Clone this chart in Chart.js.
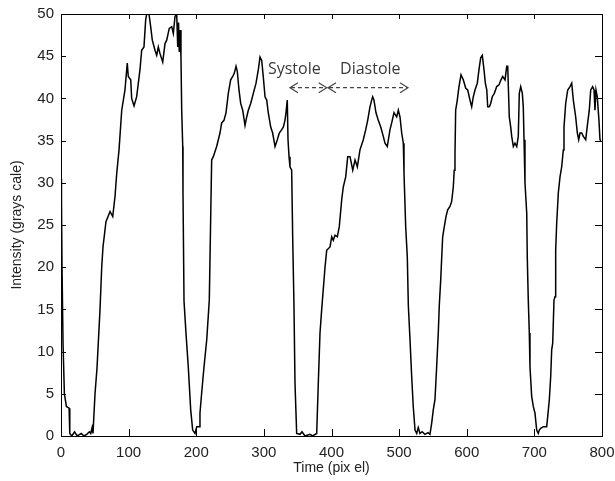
<!DOCTYPE html>
<html>
<head>
<meta charset="utf-8">
<script src="https://cdn.jsdelivr.net/npm/chart.js@4/dist/chart.umd.min.js"></script>
<style>
  html, body { margin: 0; padding: 0; background: #ffffff; }
  #wrap { width: 615px; height: 481px; position: relative; }
</style>
</head>
<body>
<div id="wrap"><canvas id="c" width="615" height="481"></canvas></div>
<script>
// ---- Data ----
const timePixel = [
  0, 0.7, 1.5, 3, 5, 8, 12, 13, 16, 20, 24, 30, 34, 38, 42, 44, 46, 47.3,
  50.3, 53.2, 57.7, 60.2, 62.1, 66.5, 72.5, 76.5, 79.9, 82.4, 85.8, 89.8, 94.6, 98, 99.5,
  103.1, 104.5, 108, 111.9, 116.8, 119.3, 122.7, 125.2, 126.7, 130.1, 132.6, 135, 139,
  141.5, 143.9, 146.4, 150.4, 153.8, 156.3, 160.1, 163.7, 166.1, 168.6, 171.1, 172.6,
  173.8, 174.9, 176, 177.4, 178.5, 180, 180.4, 181.9, 184.8, 188.2, 191.8, 194.7, 198.2,
  200.7, 204.5, 205.5, 208, 211.5, 215.5, 219.3, 221.8, 222.8, 225.2, 230.2, 235.1, 237.6,
  241, 244, 247.4, 250.9, 253.9, 256.3, 258.8, 260.7, 263.2, 265.7, 268.7, 272.1, 274.6,
  277, 280.5, 284.4, 288.4, 291.8, 294.3, 296.8, 299.1, 301.7, 304.2, 306.5, 310.1, 313,
  316.5, 319.9, 322.8, 326.4, 328.7, 331.2, 332.7, 334.6, 335.7, 337.2, 338.6, 341.1,
  342.6, 344.5, 346, 348.5, 353.4, 356.4, 360.8, 368.2, 372, 378.1, 380.5, 383, 385.5,
  390.4, 392.9, 397.8, 400.3, 402.7, 405.2, 408.6, 411.5, 415.1, 417.4, 421, 424, 427.4,
  431.4, 434.8, 438.2, 442.1, 447, 450.6, 453.5, 456.9, 459.4, 460.9, 462.8, 465.8, 469.2,
  472.8, 476.6, 479.1, 482.5, 486.5, 489, 492.4, 496.4, 498.8, 501.3, 503.8, 506.2, 507.2,
  509.7, 512.1, 513.6, 516.1, 518.6, 520.9, 523.5, 526, 528.3, 530.8, 534, 538.2, 542.7,
  545.6, 548.1, 550.5, 553, 555.5, 557.9, 559.4, 561.5, 563, 564.4, 566.8, 569.3, 571.8,
  575.2, 577.7, 580.1, 581.5, 582.6, 583.6, 586, 588.5, 591.5, 594.9, 598.5, 601.4, 604.8,
  607.3, 609.7, 612.2, 615.6, 618.1, 620.6, 623, 625.5, 627.5, 629.6, 631, 633.4, 635.4,
  637.8, 640.8, 644.3, 647.7, 650.6, 653.2, 656.6, 659.1, 660.6, 661.5, 662.9, 665, 666.5,
  668.9, 671.3, 673.9, 676.2, 677.7, 679.8, 682.2, 683.6, 684.7, 686.1, 688.7, 689.5, 691,
  692.5, 693.5, 696, 698.4, 700.9, 703.4, 705.8, 707.3, 709.3, 713.2, 718.2, 719.7, 722.1,
  724.1, 725.6, 727.1, 729, 730.5, 731.5, 733, 735.4, 737.9, 740.4, 742.8, 743.8, 746.3,
  749.3, 752.7, 755.2, 757.6, 761.1, 763.5, 765.5, 767.5, 770, 772.4, 775.9, 778.8, 781.2,
  783.3, 786.2, 788.2, 789.6, 791.1, 793, 795.5, 797, 798.5
];
const intensity = [
  30.5, 28, 20, 11, 5, 3.5, 3.3, 0.3, 0, 0.5, 0, 0.3, 0, 0.2, 0.5, 0.3, 1, 0.3,
  5, 8, 15, 20, 22.4, 25.4, 26.6, 26, 28.4, 31.1, 33.9, 38.6, 41, 44.2, 42.6,
  42.2, 40, 39.1, 40.2, 43.4, 45.7, 46.1, 49.3, 50, 50, 48.5, 46.9, 45.7,
  45.1, 46.1, 45.3, 44.3, 46.5, 46.9, 48.3, 48.5, 47.7, 49.7, 50, 46.1,
  49, 45.5, 48.1, 44.9, 38.6, 34.3, 28.8, 16, 12.2, 8.2, 3.1, 0.7, 0.3,
  1.1, 1.1, 2.7, 5.1, 8.2, 11.4, 16.1, 28, 32.7, 33.1, 34.3, 35.9, 37.1,
  37.4, 38.3, 40.6, 42.2, 42.6, 43, 43.8, 43.2, 41, 39.4, 38.6, 36.8, 37.8,
  38.6, 39.4, 40.6, 41.8, 43.4, 44.9, 44.5, 42.6, 40.2, 39.8, 38.3, 36.6, 35.9,
  34.3, 35.1, 35.9, 36.3, 36.6, 37.4, 38.3, 39.8, 35.1, 33.1, 31.9, 31.5,
  23.6, 15.5, 6.3, 0.3, 0.2, 0.5, 0, 0.2, 0, 0.3, 6.3, 12.2, 15,
  20, 22, 22.4, 23.6, 23.2, 23.8, 23.6, 24.8, 28, 29.5, 30.7, 33.1, 33.1,
  31.5, 32.7, 31.9, 33.9, 35.1, 36.3, 37.4, 39, 39.8, 40.2, 39.8, 38.3, 37.4,
  36.6, 35.5, 34.7, 34.3, 36.3, 37.1, 38.3, 37.8, 38.6, 37.8, 35.9, 34.7, 31.2,
  24.8, 21.2, 15.5, 11.4, 7, 3.5, 0.7, 0.3, 1, 0.3, 0.5, 0.2, 0.4,
  0.2, 1.5, 3.1, 4.3, 8.2, 12.2, 15.5, 18.5, 21.2, 23.6, 24.8, 26, 26.8,
  27.2, 27.8, 29.5, 31.5, 33.3, 38.6, 39.8, 41.4, 42.8, 42.2, 41.2, 41, 39.8,
  39, 40.2, 41, 41.8, 43.4, 44.8, 45.1, 43.4, 41.8, 41, 39, 39, 39.4,
  40.2, 40.6, 41.4, 41.6, 42.2, 42.6, 42.2, 43.8, 43.8, 41.4, 37.8, 36.6, 35.5,
  34.3, 34.7, 34.3, 35.5, 40.6, 41.4, 40.6, 39, 35.1, 30, 26.4, 21.2, 16.1,
  12.2, 8.2, 4.7, 3.5, 2.7, 0.7, 0.3, 0.7, 0.9, 1.1, 1.1, 2.3, 4.3,
  7, 10.2, 11, 16.1, 16.5, 22, 25.2, 28.8, 30.7, 31.9, 33.9, 36.6, 39.4,
  41, 41.4, 41.8, 39.8, 37.8, 35.9, 35.1, 35.9, 35.9, 35.5, 35.1, 37.1, 38.6,
  41, 41.4, 41, 38.6, 41, 40.2, 37.4, 35.1, 35
];
const xTicks = [0, 100, 200, 300, 400, 500, 600, 700, 800];
const yTicks = [0, 5, 10, 15, 20, 25, 30, 35, 40, 45, 50];
const xTitle = 'Time (pix el)';
const yTitle = 'Intensity (grays cale)';
// annotation labels and arrow spans (data units)
const annotLabels = ['Systole', 'Diastole'];
const annotLabelX = [306, 412.6];
const annotLabelY = 42.9;
const arrowStart = [338.6, 394.8];
const arrowEnd = [392.9, 513.1];
const arrowY = 41.27;

const points = timePixel.map((t, i) => ({ x: t, y: intensity[i] }));

const frameAndTicks = {
  id: 'frameAndTicks',
  afterDatasetsDraw(chart) {
    const { ctx, chartArea: a, scales } = chart;
    const xs = scales.x, ys = scales.y;
    ctx.save();
    ctx.strokeStyle = '#000';
    ctx.lineWidth = 1;
    ctx.beginPath();
    xTicks.forEach(v => {
      const px = Math.round(xs.getPixelForValue(v)) + 0.5;
      ctx.moveTo(px, a.bottom); ctx.lineTo(px, a.bottom - 7);
      ctx.moveTo(px, a.top); ctx.lineTo(px, a.top + 5);
    });
    yTicks.forEach(v => {
      const py = Math.round(ys.getPixelForValue(v)) + 0.5;
      ctx.moveTo(a.left, py); ctx.lineTo(a.left + 5, py);
      ctx.moveTo(a.right, py); ctx.lineTo(a.right - 7, py);
    });
    ctx.stroke();
    ctx.strokeRect(Math.round(a.left) + 0.5, Math.round(a.top) + 0.5,
                   Math.round(a.right - a.left), Math.round(a.bottom - a.top));
    // annotation
    ctx.fillStyle = '#3a3a3a';
    ctx.font = '16px "Open Sans", sans-serif';
    ctx.textBaseline = 'alphabetic';
    ctx.textAlign = 'left';
    annotLabels.forEach((s, i) => {
      ctx.fillText(s, xs.getPixelForValue(annotLabelX[i]), ys.getPixelForValue(annotLabelY));
    });
    ctx.strokeStyle = '#444';
    ctx.lineWidth = 1.2;
    const ay = ys.getPixelForValue(arrowY);
    arrowStart.forEach((s, i) => {
      const x0 = xs.getPixelForValue(s), x1 = xs.getPixelForValue(arrowEnd[i]);
      ctx.setLineDash([4, 3]);
      ctx.beginPath(); ctx.moveTo(x0 + 1, ay); ctx.lineTo(x1 - 1, ay); ctx.stroke();
      ctx.setLineDash([]);
      ctx.beginPath();
      ctx.moveTo(x0 + 8, ay - 5); ctx.lineTo(x0, ay); ctx.lineTo(x0 + 8, ay + 5);
      ctx.moveTo(x1 - 8, ay - 5); ctx.lineTo(x1, ay); ctx.lineTo(x1 - 8, ay + 5);
      ctx.stroke();
    });
    ctx.restore();
  }
};

new Chart(document.getElementById('c'), {
  type: 'line',
  data: {
    datasets: [{
      data: points,
      borderColor: '#000',
      borderWidth: 1.5,
      pointRadius: 0,
      fill: false,
      tension: 0
    }]
  },
  options: {
    responsive: false,
    animation: false,
    events: [],
    layout: { padding: { left: 0, right: 13, top: 14, bottom: 0 } },
    plugins: { legend: { display: false }, tooltip: { enabled: false } },
    scales: {
      x: {
        type: 'linear', min: 0, max: 800,
        afterBuildTicks: s => { s.ticks = xTicks.map(v => ({ value: v })); },
        afterFit: s => { s.height = 45; s.paddingLeft = 0; s.paddingRight = 0; },
        grid: { display: false, drawTicks: false },
        border: { display: false },
        ticks: { color: '#222', padding: 8, maxRotation: 0, font: { family: '"Liberation Sans", Arial, sans-serif', size: 15 } },
        title: { display: true, text: xTitle, color: '#222', padding: { top: 0, bottom: 4 },
                 font: { family: '"Liberation Sans", Arial, sans-serif', size: 14 } }
      },
      y: {
        type: 'linear', min: 0, max: 50,
        afterBuildTicks: s => { s.ticks = yTicks.map(v => ({ value: v })); },
        afterFit: s => { s.width = 61; s.paddingTop = 0; s.paddingBottom = 0; },
        grid: { display: false, drawTicks: false },
        border: { display: false },
        ticks: { color: '#222', padding: 7, font: { family: '"Liberation Sans", Arial, sans-serif', size: 15 } },
        title: { display: true, text: yTitle, color: '#222', padding: { top: 9, bottom: 0 },
                 font: { family: '"Liberation Sans", Arial, sans-serif', size: 14 } }
      }
    }
  },
  plugins: [frameAndTicks]
});
</script>
</body>
</html>
